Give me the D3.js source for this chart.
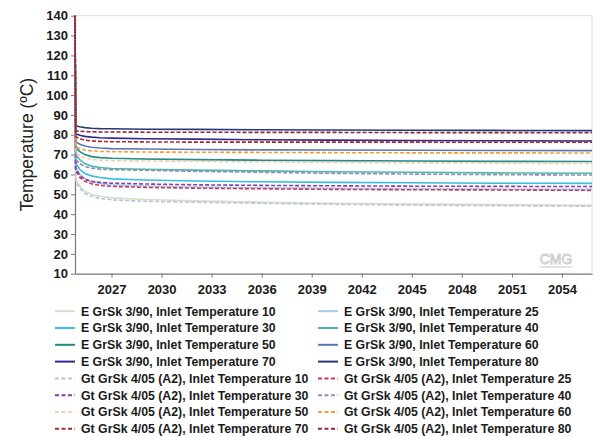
<!DOCTYPE html>
<html>
<head>
<meta charset="utf-8">
<script src="https://cdn.jsdelivr.net/npm/d3@7"></script>
<style>
  html, body { margin: 0; padding: 0; background: #fff; }
  svg { display: block; font-family: "Liberation Sans", Arial, sans-serif; }
</style>
</head>
<body>
<svg id="chart" width="601" height="437"></svg>
<script>
// Simulation time (decimal years)
const years = [2024.81, 2024.85, 2025.1, 2025.4, 2025.8, 2026.3, 2027, 2029, 2032, 2036, 2040, 2045, 2050, 2055.8];

// Outlet temperature (°C), E GrSk 3/90 by inlet temperature
const e10 = [140, 58.0, 54.0, 51.5, 50.0, 49.0, 48.2, 47.4, 46.7, 46.0, 45.5, 45.1, 44.8, 44.5];
const e25 = [140, 64.0, 60.0, 58.0, 56.5, 55.5, 54.8, 54.2, 53.7, 53.3, 53.0, 52.8, 52.6, 52.5];
const e30 = [140, 66.0, 62.5, 60.5, 59.3, 58.5, 57.8, 57.2, 56.7, 56.3, 56.0, 55.8, 55.6, 55.5];
const e40 = [140, 70.0, 67.5, 65.5, 64.2, 63.5, 63.0, 62.6, 62.2, 61.8, 61.4, 61.1, 60.8, 60.6];
const e50 = [140, 73.5, 71.5, 70.0, 69.0, 68.5, 68.2, 67.8, 67.5, 67.2, 67.0, 66.8, 66.6, 66.5];
const e60 = [140, 76.5, 75.2, 74.3, 73.7, 73.3, 73.0, 72.8, 72.6, 72.4, 72.3, 72.2, 72.1, 72.0];
const e70 = [140, 80.5, 79.8, 79.2, 78.8, 78.5, 78.3, 78.0, 77.8, 77.5, 77.3, 77.1, 77.0, 76.9];
const e80 = [140, 84.5, 84.0, 83.6, 83.3, 83.1, 83.0, 82.8, 82.7, 82.5, 82.4, 82.3, 82.2, 82.1];

// Outlet temperature (°C), Gt GrSk 4/05 (A2) by inlet temperature
const gt10 = [140, 57.0, 53.0, 50.5, 49.0, 48.0, 47.2, 46.5, 46.0, 45.5, 45.0, 44.6, 44.3, 44.0];
const gt25 = [140, 62.0, 58.5, 56.5, 55.3, 54.5, 54.0, 53.5, 53.1, 52.8, 52.5, 52.3, 52.2, 52.0];
const gt30 = [140, 63.0, 59.5, 57.5, 56.5, 56.0, 55.6, 55.2, 54.8, 54.5, 54.3, 54.1, 54.0, 53.9];
const gt40 = [140, 67.5, 65.5, 64.0, 63.2, 62.7, 62.4, 62.1, 61.6, 61.1, 60.6, 60.2, 59.9, 59.7];
const gt50 = [140, 71.0, 69.5, 68.3, 67.6, 67.2, 67.0, 66.8, 66.6, 66.3, 66.1, 65.9, 65.7, 65.5];
const gt60 = [140, 74.0, 73.0, 72.3, 71.9, 71.6, 71.5, 71.3, 71.2, 71.1, 71.0, 70.9, 70.9, 70.8];
const gt70 = [140, 79.0, 78.0, 77.3, 76.9, 76.7, 76.5, 76.4, 76.3, 76.3, 76.3, 76.3, 76.2, 76.2];
const gt80 = [140, 82.0, 81.8, 81.6, 81.5, 81.4, 81.4, 81.3, 81.3, 81.2, 81.2, 81.1, 81.1, 81.0];

const inletTemps = [10, 25, 30, 40, 50, 60, 70, 80];
const xTickYears = [2027, 2030, 2033, 2036, 2039, 2042, 2045, 2048, 2051, 2054];
const yTickValues = [10, 20, 30, 40, 50, 60, 70, 80, 90, 100, 110, 120, 130, 140];

const eSeries = [e10, e25, e30, e40, e50, e60, e70, e80];
const gtSeries = [gt10, gt25, gt30, gt40, gt50, gt60, gt70, gt80];

const eColors = ["#cde4c4", "#a8cdea", "#35bfe2", "#4fb9a9", "#208a8a", "#5a78b8", "#302a8c", "#263a78"];
const gtColors = ["#c2bfdc", "#c8385a", "#8a3aa8", "#8a8eb8", "#f4cfae", "#f3a232", "#a82828", "#8c2a3a"];

const series = [];
inletTemps.forEach((t, i) => series.push({ name: "E GrSk 3/90, Inlet Temperature " + t, values: eSeries[i], color: eColors[i], dashed: false }));
inletTemps.forEach((t, i) => series.push({ name: "Gt GrSk 4/05 (A2), Inlet Temperature " + t, values: gtSeries[i], color: gtColors[i], dashed: true }));

const svg = d3.select("#chart");
const plotLeft = 75, plotRight = 592, plotTop = 15.7, plotBottom = 273.7;

const x = d3.scaleLinear().domain([2024.81, 2055.8]).range([plotLeft, plotRight]);
const y = d3.scaleLinear().domain([10, 140]).range([plotBottom, plotTop]);

// plot frame (top and right)
svg.append("line").attr("x1", plotLeft).attr("x2", plotRight).attr("y1", plotTop).attr("y2", plotTop)
  .attr("stroke", "#dcdcdc").attr("stroke-width", 1);
svg.append("line").attr("x1", plotRight).attr("x2", plotRight).attr("y1", plotTop).attr("y2", plotBottom)
  .attr("stroke", "#e2e2e2").attr("stroke-width", 1);

// watermark
const logo = svg.append("g").attr("transform", "translate(556,264)");
logo.append("text").attr("text-anchor", "middle").attr("font-size", 14).attr("font-family", "Liberation Sans, Arial")
  .attr("fill", "none").attr("stroke", "#c8c8c8").attr("stroke-width", 0.8).text("CMG");
logo.append("line").attr("x1", -16).attr("x2", 16).attr("y1", 3).attr("y2", 3)
  .attr("stroke", "#d0d0d0").attr("stroke-width", 1.2);

// axes
const xAxis = d3.axisBottom(x).tickValues(xTickYears).tickFormat(d3.format("d")).tickSize(4).tickSizeOuter(0);
const yAxis = d3.axisLeft(y).tickValues(yTickValues).tickFormat(d3.format("d")).tickSize(4).tickSizeOuter(0);

const gx = svg.append("g").attr("transform", `translate(0,${plotBottom})`).call(xAxis);
const gy = svg.append("g").attr("transform", `translate(${plotLeft},0)`).call(yAxis);
[gx, gy].forEach(g => {
  g.select(".domain").attr("stroke", "#777").attr("stroke-width", 1.2);
  g.selectAll(".tick line").attr("stroke", "#777");
  g.selectAll(".tick text").attr("font-size", 13).attr("font-weight", "bold")
    .attr("fill", "#1a1a1a").attr("font-family", "Liberation Sans, Arial");
});
gx.selectAll(".tick text").attr("dy", "1.05em");
gy.selectAll(".tick text").attr("x", -7);

// y axis title
svg.append("text")
  .attr("transform", `translate(33,${(plotTop + plotBottom) / 2}) rotate(-90)`)
  .attr("text-anchor", "middle")
  .attr("font-size", 17.5).attr("fill", "#222").attr("font-family", "Liberation Sans, Arial")
  .text("Temperature  (ºC)");

// series lines
const line = d3.line().x((d, i) => x(years[i])).y(d => y(d));
svg.append("g").selectAll("path").data(series).join("path")
  .attr("d", d => line(d.values))
  .attr("fill", "none")
  .attr("stroke", d => d.color)
  .attr("stroke-width", 1.6)
  .attr("stroke-dasharray", d => d.dashed ? "4,2" : null);

// legend: two columns, E rows then Gt rows
const legend = svg.append("g").attr("font-family", "Liberation Sans, Arial").attr("font-weight", "bold")
  .attr("font-size", 12.3).attr("fill", "#1a1a1a");
const rowY = i => 311.2 + i * 16.8;
const columns = [{ x0: 55, x1: 75, tx: 81 }, { x0: 318, x1: 338, tx: 344 }];
series.forEach((s, k) => {
  const L = columns[k % 2];
  const yy = rowY(Math.floor(k / 2));
  legend.append("line").attr("x1", L.x0).attr("x2", L.x1).attr("y1", yy).attr("y2", yy)
    .attr("stroke", s.color).attr("stroke-width", 2)
    .attr("stroke-dasharray", s.dashed ? "4,2.5" : null);
  legend.append("text").attr("x", L.tx).attr("y", yy + 4.3).text(s.name);
});
</script>
</body>
</html>
